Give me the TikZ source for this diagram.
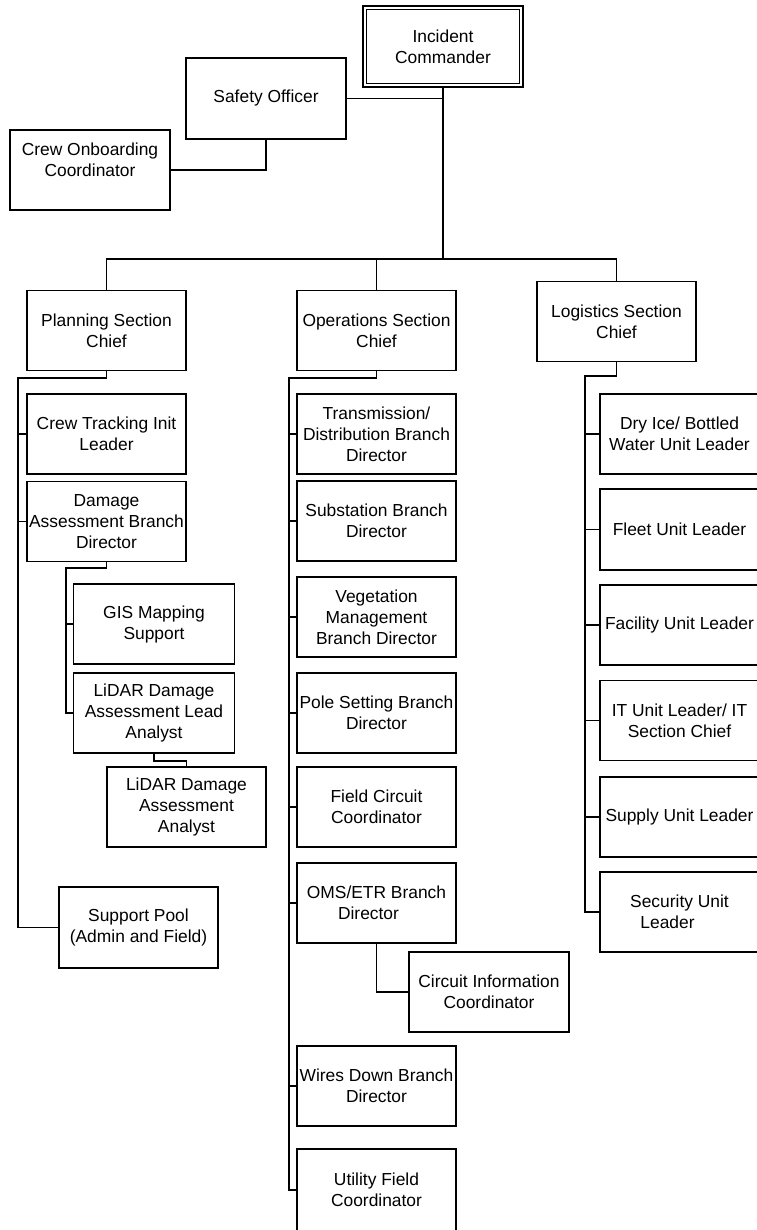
\documentclass[tikz,border=0pt]{standalone}
\usepackage{fontspec}
\setmainfont{Liberation Sans}
\begin{document}
\begin{tikzpicture}[x=1pt,y=-1pt,
  box/.style={draw, line width=1.4pt, minimum width=159pt, minimum height=80pt, inner sep=0pt, align=center, font=\fontsize{17.4}{21}\selectfont},
  conn/.style={line width=1.4pt}]
\useasboundingbox (0,0) rectangle (756,1230);
\fill[white] (0,0) rectangle (756,1230);
% top
\node[box, minimum width=160pt, minimum height=81pt] (ic) at (443,46.5) {Incident\\Commander};
\draw[conn] ([shift={(4pt,-4pt)}]ic.north west) rectangle ([shift={(-4pt,4pt)}]ic.south east);
\node[box, minimum width=160pt, minimum height=81pt] (so) at (266,98.5) {Safety Officer};
\node[box, minimum width=160pt] (co) at (90,170) {Crew Onboarding\\Coordinator\\\mbox{}};
% sections
\node[box] (ps) at (106.5,330.5) {Planning Section\\Chief};
\node[box] (os) at (376.5,330.5) {Operations Section\\Chief};
\node[box] (ls) at (616.5,321.5) {Logistics Section\\Chief};
% planning
\node[box] (ct) at (106.5,434) {Crew Tracking Init\\Leader};
\node[box] (da) at (106.5,521.5) {Damage\\Assessment Branch\\Director};
\node[box, minimum width=161pt] (gis) at (154,624) {GIS Mapping\\Support};
\node[box, minimum width=161pt] (ll) at (154,713) {LiDAR Damage\\Assessment Lead\\Analyst};
\node[box] (la) at (186.5,807) {LiDAR Damage\\Assessment\\Analyst};
\node[box, minimum height=81pt] (sp) at (138.5,927.5) {Support Pool\\(Admin and Field)};
% operations
\node[box] (td) at (376.5,434) {Transmission/\\Distribution Branch\\Director};
\node[box] (sb) at (376.5,521) {Substation Branch\\Director};
\node[box] (vm) at (376.5,617) {Vegetation\\Management\\Branch Director};
\node[box] (pb) at (376.5,713) {Pole Setting Branch\\Director};
\node[box] (fc) at (376.5,807) {Field Circuit\\Coordinator};
\node[box] (oe) at (376.5,903) {OMS/ETR Branch\\Director\rule{16pt}{0pt}};
\node[box, minimum width=160pt] (ci) at (489,992) {Circuit Information\\Coordinator};
\node[box] (wd) at (376.5,1086) {Wires Down Branch\\Director};
\node[box, minimum height=82pt] (uf) at (376.5,1190) {Utility Field\\Coordinator};
% logistics
\node[box] (di) at (679.5,434) {Dry Ice/ Bottled\\Water Unit Leader};
\node[box, minimum height=81pt] (fl) at (679.5,529.5) {Fleet Unit Leader};
\node[box] (fa) at (679.5,625) {Facility Unit Leader};
\node[box] (it) at (679.5,720.5) {IT Unit Leader/ IT\\Section Chief};
\node[box] (su) at (679.5,817) {Supply Unit Leader};
\node[box] (se) at (679.5,912) {Security Unit\\Leader\rule{24pt}{0pt}};
% connectors top
\coordinate (bus) at (443,259);
\draw[conn] (ic.south) -- (bus);
\draw[conn] (so.east) -- (so.east -| ic.south);
\draw[conn] (so.south) |- (co.east);
\draw[conn] (ps.north) -- (ps.north |- bus) -- (ls.north |- bus) -- (ls.north);
\draw[conn] (os.north) -- (os.north |- bus);
% planning connectors
\coordinate (pj) at (18,378);
\draw[conn] (ps.south) -- (ps.south |- pj) -- (pj) -- (pj |- sp.west) -- (sp.west);
\foreach \n in {ct,da} \draw[conn] (pj |- \n.west) -- (\n.west);
\coordinate (dj) at (66,568);
\draw[conn] (da.south) -- (da.south |- dj) -- (dj) -- (dj |- ll.west) -- (ll.west);
\draw[conn] (dj |- gis.west) -- (gis.west);
\coordinate (lj) at (0,761);
\draw[conn] (ll.south) -- (ll.south |- lj) -- (la.north |- lj) -- (la.north);
% operations connectors
\coordinate (oj) at (289,378);
\draw[conn] (os.south) -- (os.south |- oj) -- (oj) -- (oj |- uf.west) -- (uf.west);
\foreach \n in {td,sb,vm,pb,fc,oe,wd} \draw[conn] (oj |- \n.west) -- (\n.west);
\draw[conn] (oe.south) |- (ci.west);
% logistics connectors
\coordinate (gj) at (585,376);
\draw[conn] (ls.south) -- (ls.south |- gj) -- (gj) -- (gj |- se.west) -- (se.west);
\foreach \n in {di,fl,fa,it,su} \draw[conn] (gj |- \n.west) -- (\n.west);
\end{tikzpicture}
\end{document}
